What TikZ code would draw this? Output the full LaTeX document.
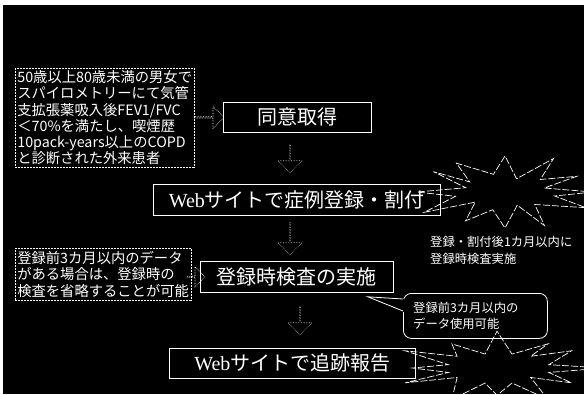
\documentclass[tikz,border=0pt]{standalone}
\usepackage{fontspec}
\setmainfont{Noto Sans CJK JP}
\newfontfamily\webfont{Liberation Serif}
\usetikzlibrary{shapes.arrows}
\tikzset{
  mainbox/.style={draw=white, line width=0.8pt, text=white, inner sep=0pt,
    anchor=north west, font=\fontsize{20}{20}\selectfont},
  notebox/.style={draw=white, line width=0.7pt, dash pattern=on 2pt off 1pt,
    text=white, inner sep=2pt, anchor=north west, align=left,
    font=\fontsize{14.3}{16.2}\selectfont},
  blockarrow/.style={single arrow, draw=white, line width=0.6pt, densely dotted,
    single arrow head extend=5pt, inner sep=0pt},
  downarrow/.style={blockarrow, draw=white!75!black, shape border rotate=270},
  burst/.style={draw=white, line width=0.7pt, dash pattern=on 7pt off 2pt},
  smalltext/.style={text=white, align=left, inner sep=0pt, anchor=north west}
}
\begin{document}
\begin{tikzpicture}[x=1pt,y=-1pt]
\useasboundingbox (0,0) rectangle (584,394);
\fill[white] (0,0) rectangle (584,394);
\fill[black] (3,5) rectangle (584,394);

% left notes
\node[notebox, minimum width=178pt, minimum height=99pt] (n1) at (15,68)
  {50歳以上80歳未満の男女で\\スパイロメトリーにて気管\\支拡張薬吸入後FEV1/FVC\\＜70\%を満たし、喫煙歴\\10pack-years以上のCOPD\\と診断された外来患者};
\node[notebox, minimum width=167pt, minimum height=52pt, font=\fontsize{14.3}{16.5}\selectfont] (n2) at (15,248)
  {登録前3カ月以内のデータ\\がある場合は、登録時の\\検査を省略することが可能};

% main boxes
\node[mainbox, minimum width=148pt, minimum height=30pt] (consent) at (223,102) {同意取得};
\node[mainbox, minimum width=287pt, minimum height=31pt] (web1) at (153,184)
  {{\webfont Web}サイトで症例登録・割付};
\node[mainbox, minimum width=193pt, minimum height=31pt] (exam) at (200,261) {登録時検査の実施};
\node[mainbox, minimum width=246pt, minimum height=30pt] (web2) at (169,348)
  {{\webfont Web}サイトで追跡報告};

% right arrows
\path (n1.east |- consent.west) -- (consent.west)
  node[midway, blockarrow, minimum height=30pt, minimum width=22pt] {};
\path (n2.east |- exam.west) -- (exam.west)
  node[midway, blockarrow, minimum height=18pt, minimum width=20pt, single arrow head extend=4pt] {};

% down arrows
\path (consent.south -| 290,0) -- (web1.north -| 290,0)
  node[midway, downarrow, minimum height=28pt, minimum width=24pt] {};
\path (web1.south -| 290,0) -- (exam.north -| 290,0)
  node[midway, downarrow, minimum height=32pt, minimum width=24pt] {};
\path (exam.south -| 300,0) -- (web2.north -| 300,0)
  node[midway, downarrow, minimum height=28pt, minimum width=24pt] {};

% bursts
\draw[burst] plot[samples at={0,15,...,345}]
  ({505+((mod(\x,30)==0)?88:46)*(1+0.12*sin(5*\x))*cos(\x)},
   {192+((mod(\x,30)==0)?36:16)*(1+0.15*cos(7*\x))*sin(\x)}) -- cycle;
\draw[burst] plot[samples at={0,15,...,345}]
  ({497+((mod(\x,30)==0)?96:52)*(1+0.12*cos(5*\x))*cos(\x)},
   {368+((mod(\x,30)==0)?32:15)*(1+0.15*sin(7*\x))*sin(\x)}) -- cycle;

% side note
\node[smalltext, font=\fontsize{12.3}{16.5}\selectfont] (s1) at (430,236)
  {登録・割付後1カ月以内に\\登録時検査実施};

% callout bubble
\node[draw=white, line width=0.8pt, rounded corners=8pt, anchor=north west,
  minimum width=144pt, minimum height=45pt, inner sep=0pt] (bub) at (403,293) {};
\coordinate (tip) at ([xshift=-26pt,yshift=-4pt]exam.south east);
\fill[black] ([yshift=-6pt]bub.north west) -- (tip) -- ([yshift=-19pt]bub.north west)
  -- ([xshift=3pt,yshift=-19pt]bub.north west) -- ([xshift=3pt,yshift=-6pt]bub.north west) -- cycle;
\draw[white, line width=0.8pt] ([yshift=-6pt]bub.north west) -- (tip) -- ([yshift=-18pt]bub.north west);
\node[smalltext, font=\fontsize{12.3}{15.5}\selectfont] (btxt) at (413,302)
  {登録前3カ月以内の\\データ使用可能};
\end{tikzpicture}
\end{document}
